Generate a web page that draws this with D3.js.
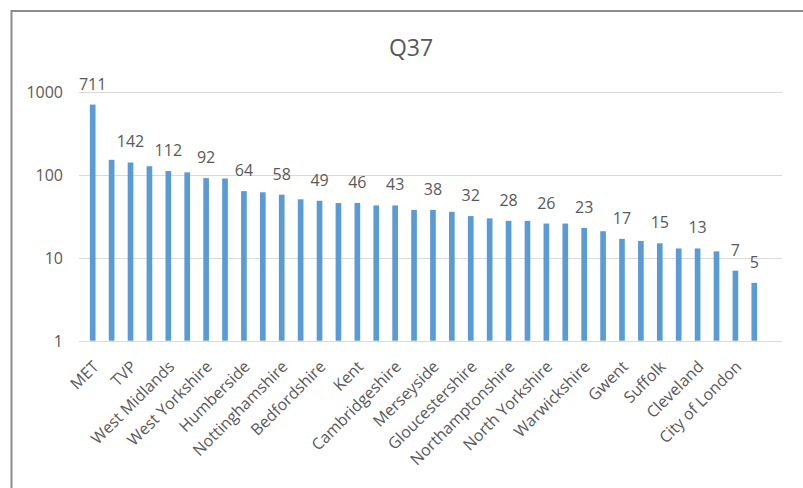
<!DOCTYPE html>
<html>
<head>
<meta charset="utf-8">
<script src="https://cdn.jsdelivr.net/npm/d3@7"></script>
<style>
  body { margin: 0; background: #fff; }
  text { font-family: "Open Sans", sans-serif; fill: #595959; }
</style>
</head>
<body>
<div id="container"></div>
<script>
// chart data (sorted high to low)
var title = "Q37";
var values = [711, 153, 142, 128, 112, 108, 92, 91, 64, 62, 58, 51, 49, 46, 46, 43, 43, 38,
  38, 36, 32, 30, 28, 28, 26, 26, 23, 21, 17, 16, 15, 13, 13, 12, 7, 5];
// only every other category name is shown on the axis
var forces = ["MET", "TVP", "West Midlands", "West Yorkshire", "Humberside", "Nottinghamshire",
  "Bedfordshire", "Kent", "Cambridgeshire", "Merseyside", "Gloucestershire", "Northamptonshire",
  "North Yorkshire", "Warwickshire", "Gwent", "Suffolk", "Cleveland", "City of London"];
var yTicks = [1, 10, 100, 1000];

var width = 803, height = 488;

var svg = d3.select("#container")
  .append("svg")
  .attr("width", width)
  .attr("height", height);

// outer frame (only top and left edges are visible in the shot)
svg.append("path")
  .attr("d", "M11.5," + height + "V11H" + width)
  .attr("fill", "none")
  .attr("stroke", "#8c8c8c")
  .attr("stroke-width", 2);

svg.append("text")
  .attr("x", 411)
  .attr("y", 56)
  .attr("text-anchor", "middle")
  .style("font-size", "23px")
  .text(title);

var x = d3.scaleBand()
  .domain(d3.range(values.length))
  .range([83.25, 763.75])
  .paddingInner(0.7)
  .paddingOuter(0.35);

var y = d3.scaleLog()
  .domain([1, 1000])
  .range([340.7, 92.3]);

// gridlines
svg.append("g")
  .selectAll("line")
  .data(yTicks)
  .enter()
  .append("line")
  .attr("x1", 79)
  .attr("x2", 782)
  .attr("y1", function (d) { return Math.round(y(d)) + 0.5; })
  .attr("y2", function (d) { return Math.round(y(d)) + 0.5; })
  .attr("stroke", "#d9d9d9")
  .attr("stroke-width", 1);

// y tick labels
svg.append("g")
  .selectAll("text")
  .data(yTicks)
  .enter()
  .append("text")
  .attr("x", 63)
  .attr("y", function (d) { return y(d) + 6; })
  .attr("text-anchor", "end")
  .style("font-size", "16px")
  .text(function (d) { return d; });

// bars
svg.append("g")
  .selectAll("rect")
  .data(values)
  .enter()
  .append("rect")
  .attr("x", function (d, i) { return x(i); })
  .attr("y", function (d) { return y(d); })
  .attr("width", x.bandwidth())
  .attr("height", function (d) { return y(1) - y(d); })
  .attr("fill", "#5b9bd5");

// value labels on every other bar plus the last one
var labels = values.map(function (d, i) { return { v: d, i: i }; })
  .filter(function (d) { return d.i % 2 === 0 || d.i === values.length - 1; });

svg.append("g")
  .selectAll("text")
  .data(labels)
  .enter()
  .append("text")
  .attr("x", function (d) { return x(d.i) + x.bandwidth() / 2; })
  .attr("y", function (d) { return y(d.v) - 15; })
  .attr("text-anchor", "middle")
  .style("font-size", "16px")
  .text(function (d) { return d.v; });

// category labels, rotated
svg.append("g")
  .selectAll("text")
  .data(forces)
  .enter()
  .append("text")
  .attr("text-anchor", "end")
  .attr("transform", function (d, k) {
    var cx = x(k * 2) + x.bandwidth() / 2 + 7;
    return "translate(" + cx + "," + (y(1) + 27) + ") rotate(-45)";
  })
  .style("font-size", "16px")
  .text(function (d) { return d; });
</script>
</body>
</html>
